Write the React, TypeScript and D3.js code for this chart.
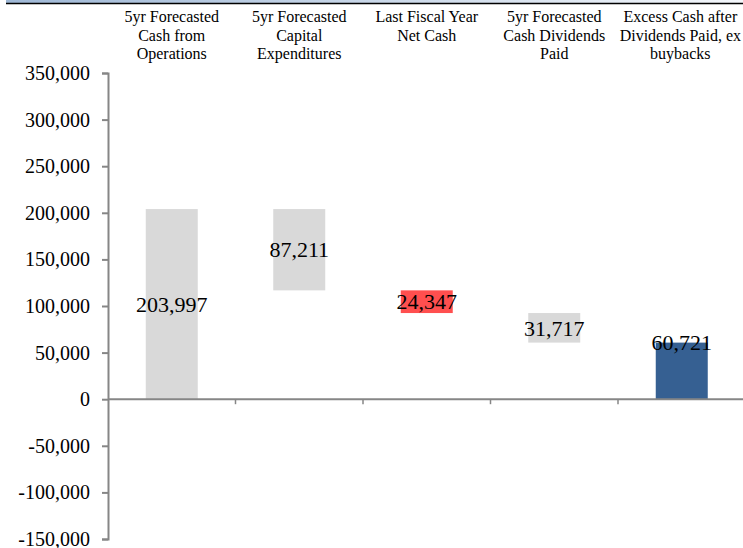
import React, { useRef, useEffect } from 'react'
import * as d3 from 'd3'

// waterfall: start value, step values, final total
const categories = [
  '5yr Forecasted Cash from Operations',
  '5yr Forecasted Capital Expenditures',
  'Last Fiscal Year Net Cash',
  '5yr Forecasted Cash Dividends Paid',
  'Excess Cash after Dividends Paid, ex buybacks',
]
const labelLines = [
  ['5yr Forecasted', 'Cash from', 'Operations'],
  ['5yr Forecasted', 'Capital', 'Expenditures'],
  ['Last Fiscal Year', 'Net Cash'],
  ['5yr Forecasted', 'Cash Dividends', 'Paid'],
  ['Excess Cash after', 'Dividends Paid, ex', 'buybacks'],
]
const changes = [203997, -87211, -24347, -31717]
const total = 60721
const kinds = ['gray', 'gray', 'red', 'gray', 'total']
const yTicks = [-150000, -100000, -50000, 0, 50000, 100000, 150000, 200000, 250000, 300000, 350000]

const colors: Record<string, string> = { gray: '#d9d9d9', red: '#ff4f4f', total: '#366092' }
const serif = '"Liberation Serif", "Times New Roman", serif'

export default function App() {
  const ref = useRef<SVGSVGElement>(null)

  useEffect(() => {
    const el = ref.current
    if (!el) return
    const width = 743
    const svg = d3.select(el)
    svg.selectAll('*').remove()

    // top strip
    const defs = svg.append('defs')
    const grad = defs.append('linearGradient').attr('id', 'topg').attr('x1', '0').attr('x2', '1')
    grad.append('stop').attr('offset', '0').attr('stop-color', '#9fb8d6')
    grad.append('stop').attr('offset', '1').attr('stop-color', '#f4f7fb')
    svg.append('rect').attr('x', 6).attr('y', 0).attr('width', width - 6).attr('height', 3).attr('fill', 'url(#topg)')
    svg.append('line').attr('x1', 6).attr('x2', width).attr('y1', 3.5).attr('y2', 3.5)
      .attr('stroke', '#000').attr('stroke-width', 1.5)

    const left = 108
    const right = 745.5
    const x = d3.scaleBand().domain(categories).range([left, right]).paddingInner(0).paddingOuter(0)
    const y = d3.scaleLinear().domain([-150000, 350000]).range([539, 73])

    // build segments
    let run = 0
    const segs = changes.map((c, i) => {
      const from = run
      run += c
      return { cat: categories[i], lo: Math.min(from, run), hi: Math.max(from, run), v: Math.abs(c), kind: kinds[i] }
    })
    segs.push({ cat: categories[4], lo: 0, hi: total, v: total, kind: kinds[4] })

    const bw = 52
    const g = svg.append('g')
    g.selectAll('rect.bar').data(segs).enter().append('rect')
      .attr('x', d => x(d.cat)! + x.bandwidth() / 2 - bw / 2)
      .attr('width', bw)
      .attr('y', d => y(d.hi))
      .attr('height', d => y(d.lo) - y(d.hi))
      .attr('fill', d => colors[d.kind])

    const fmt = d3.format(',')
    const fmtTick = (v: number) => fmt(v).replace('\u2212', '-')
    g.selectAll('text.val').data(segs).enter().append('text')
      .attr('x', d => x(d.cat)! + x.bandwidth() / 2)
      .attr('y', d => d.kind === 'total' ? y(d.hi) : (y(d.hi) + y(d.lo)) / 2)
      .attr('dy', '0.35em')
      .attr('text-anchor', 'middle')
      .attr('font-family', serif)
      .attr('font-size', 22)
      .attr('fill', '#000')
      .text(d => fmt(d.v))

    // y axis
    const yAxis = d3.axisLeft(y).tickValues(yTicks).tickSize(6).tickPadding(12).tickFormat(d => fmtTick(d as number))
    const ya = svg.append('g').attr('transform', `translate(${left},0)`).call(yAxis)
    ya.selectAll('path, line').attr('stroke', '#868686').attr('stroke-width', 2)
    ya.selectAll('text').attr('font-family', serif)
      .attr('font-size', 20).attr('fill', '#000')

    // zero line with category ticks
    svg.append('line').attr('x1', left).attr('x2', width).attr('y1', y(0)).attr('y2', y(0))
      .attr('stroke', '#868686').attr('stroke-width', 2)
    categories.slice(1).forEach(c => {
      svg.append('line').attr('x1', x(c)!).attr('x2', x(c)!).attr('y1', y(0)).attr('y2', y(0) + 5)
        .attr('stroke', '#868686').attr('stroke-width', 1.5)
    })

    // category labels at top
    labelLines.forEach((lines, i) => {
      let cx = x(categories[i])! + x.bandwidth() / 2
      const t = svg.append('text')
        .attr('font-family', serif)
        .attr('font-size', 16).attr('fill', '#000').attr('text-anchor', 'middle')
      lines.forEach((ln, j) => {
        t.append('tspan').attr('x', cx).attr('y', 22 + j * 18.5).text(ln)
      })
      const bb = (t.node() as SVGTextElement).getBBox()
      if (bb.x + bb.width > width - 2) {
        cx -= bb.x + bb.width - (width - 2)
        t.selectAll('tspan').attr('x', cx)
      }
    })
  }, [])

  return (
    <svg ref={ref} width={743} height={548}
      style={{ display: 'block', position: 'absolute', left: 0, top: 0, background: '#fff' }} />
  )
}
